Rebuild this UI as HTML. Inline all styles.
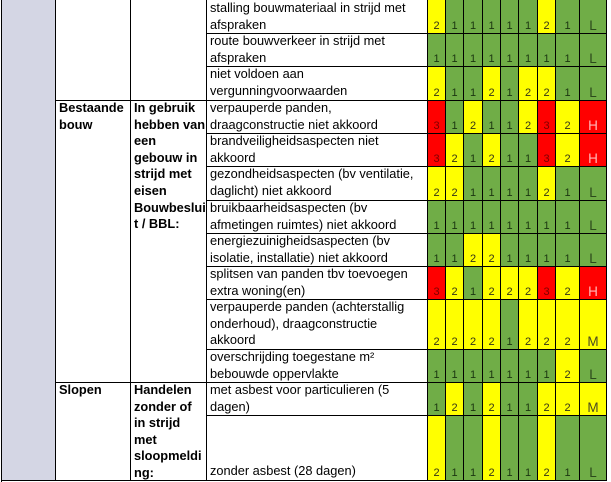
<!DOCTYPE html>
<html>
<head>
<meta charset="utf-8">
<style>
html,body{margin:0;padding:0}
body{width:611px;height:482px;overflow:hidden;background:#fff;position:relative;font-family:"Liberation Sans",Arial,sans-serif}
.v{position:absolute;width:1px;background:#000}
.h{position:absolute;height:1px;background:#000}
.tx{position:absolute;font-size:12.8px;line-height:16.6px;white-space:nowrap;color:#000}
.b{font-weight:bold}
#gray{position:absolute;left:2px;top:0;width:53px;height:480px;background:#d4d6e4}
#num{position:absolute;left:427px;top:0;width:180px;height:481px;background:#000}
.r{position:absolute;left:0;width:180px}
.r>div{position:absolute;top:0;height:100%;display:flex;align-items:flex-end;justify-content:center;font-size:11px;line-height:11px;padding-bottom:1px;box-sizing:border-box}
.G{background:#70ad47;color:#1a3510}
.Y{background:#ffff00;color:#333318}
.R{background:#ff0000;color:#7a0000}
.a1{left:1px;width:17px}.a2{left:19px;width:17px}.a3{left:37px;width:18px}.a4{left:56px;width:17px}.a5{left:74px;width:17px}.a6{left:92px;width:18px}.a7{left:111px;width:17px}.a8{left:129px;width:23px}
.r>div.a9{left:153px;width:26px;font-size:13.5px;line-height:13.5px;padding-bottom:0.5px}
.r>div.a9.G{color:#2c4a1c}.r>div.a9.Y{color:#4a4a22}.r>div.a9.R{color:#ffb8b8}
</style>
</head>
<body>
<div id="gray"></div>

<div class="v" style="left:1px;top:0;height:482px"></div>
<div class="v" style="left:55px;top:0;height:480px"></div>
<div class="v" style="left:130px;top:0;height:480px"></div>
<div class="v" style="left:206px;top:0;height:480px"></div>

<div class="h" style="left:206px;top:33px;width:221px"></div>
<div class="h" style="left:206px;top:66px;width:221px"></div>
<div class="h" style="left:55px;top:100px;width:372px"></div>
<div class="h" style="left:206px;top:133px;width:221px"></div>
<div class="h" style="left:206px;top:166px;width:221px"></div>
<div class="h" style="left:206px;top:200px;width:221px"></div>
<div class="h" style="left:206px;top:233px;width:221px"></div>
<div class="h" style="left:206px;top:266px;width:221px"></div>
<div class="h" style="left:206px;top:299px;width:221px"></div>
<div class="h" style="left:206px;top:349px;width:221px"></div>
<div class="h" style="left:55px;top:382px;width:372px"></div>
<div class="h" style="left:206px;top:415px;width:221px"></div>
<div class="h" style="left:1px;top:480px;width:606px"></div>

<div class="tx b" style="left:59px;top:100px">Bestaande<br>bouw</div>
<div class="tx b" style="left:59px;top:382px">Slopen</div>
<div class="tx b" style="left:134px;top:100px">In gebruik<br>hebben van<br>een<br>gebouw in<br>strijd met<br>eisen<br>Bouwbeslui<br>t / BBL:</div>
<div class="tx b" style="left:134px;top:382px">Handelen<br>zonder of<br>in strijd<br>met<br>sloopmeldi<br>ng:</div>

<div class="tx" style="left:210px;top:0px">stalling bouwmateriaal in strijd met<br>afspraken</div>
<div class="tx" style="left:210px;top:33px">route bouwverkeer in strijd met<br>afspraken</div>
<div class="tx" style="left:210px;top:66px">niet voldoen aan<br>vergunningvoorwaarden</div>
<div class="tx" style="left:210px;top:100px">verpauperde panden,<br>draagconstructie niet akkoord</div>
<div class="tx" style="left:210px;top:133px">brandveiligheidsaspecten niet<br>akkoord</div>
<div class="tx" style="left:210px;top:166px">gezondheidsaspecten (bv ventilatie,<br>daglicht) niet akkoord</div>
<div class="tx" style="left:210px;top:200px">bruikbaarheidsaspecten (bv<br>afmetingen ruimtes) niet akkoord</div>
<div class="tx" style="left:210px;top:233px">energiezuinigheidsaspecten (bv<br>isolatie, installatie) niet akkoord</div>
<div class="tx" style="left:210px;top:266px">splitsen van panden tbv toevoegen<br>extra woning(en)</div>
<div class="tx" style="left:210px;top:299px">verpauperde panden (achterstallig<br>onderhoud), draagconstructie<br>akkoord</div>
<div class="tx" style="left:210px;top:349px">overschrijding toegestane m²<br>bebouwde oppervlakte</div>
<div class="tx" style="left:210px;top:382px">met asbest voor particulieren (5<br>dagen)</div>
<div class="tx" style="left:210px;top:463px">zonder asbest (28 dagen)</div>

<div id="num">
<div class="r" style="top:0;height:33px">
<div class="a1 Y">2</div><div class="a2 G">1</div><div class="a3 G">1</div><div class="a4 G">1</div><div class="a5 G">1</div><div class="a6 G">1</div><div class="a7 Y">2</div><div class="a8 G">1</div><div class="a9 G">L</div>
</div>
<div class="r" style="top:34px;height:32px">
<div class="a1 G">1</div><div class="a2 G">1</div><div class="a3 G">1</div><div class="a4 G">1</div><div class="a5 G">1</div><div class="a6 G">1</div><div class="a7 G">1</div><div class="a8 G">1</div><div class="a9 G">L</div>
</div>
<div class="r" style="top:67px;height:33px">
<div class="a1 Y">2</div><div class="a2 G">1</div><div class="a3 G">1</div><div class="a4 Y">2</div><div class="a5 G">1</div><div class="a6 Y">2</div><div class="a7 Y">2</div><div class="a8 G">1</div><div class="a9 G">L</div>
</div>
<div class="r" style="top:101px;height:32px">
<div class="a1 R">3</div><div class="a2 G">1</div><div class="a3 Y">2</div><div class="a4 G">1</div><div class="a5 G">1</div><div class="a6 Y">2</div><div class="a7 R">3</div><div class="a8 Y">2</div><div class="a9 R">H</div>
</div>
<div class="r" style="top:134px;height:32px">
<div class="a1 R">3</div><div class="a2 Y">2</div><div class="a3 G">1</div><div class="a4 Y">2</div><div class="a5 G">1</div><div class="a6 G">1</div><div class="a7 R">3</div><div class="a8 Y">2</div><div class="a9 R">H</div>
</div>
<div class="r" style="top:167px;height:33px">
<div class="a1 Y">2</div><div class="a2 Y">2</div><div class="a3 G">1</div><div class="a4 G">1</div><div class="a5 G">1</div><div class="a6 G">1</div><div class="a7 Y">2</div><div class="a8 G">1</div><div class="a9 G">L</div>
</div>
<div class="r" style="top:201px;height:32px">
<div class="a1 G">1</div><div class="a2 G">1</div><div class="a3 G">1</div><div class="a4 G">1</div><div class="a5 G">1</div><div class="a6 G">1</div><div class="a7 G">1</div><div class="a8 G">1</div><div class="a9 G">L</div>
</div>
<div class="r" style="top:234px;height:32px">
<div class="a1 G">1</div><div class="a2 G">1</div><div class="a3 Y">2</div><div class="a4 Y">2</div><div class="a5 G">1</div><div class="a6 G">1</div><div class="a7 G">1</div><div class="a8 G">1</div><div class="a9 G">L</div>
</div>
<div class="r" style="top:267px;height:32px">
<div class="a1 R">3</div><div class="a2 Y">2</div><div class="a3 G">1</div><div class="a4 Y">2</div><div class="a5 Y">2</div><div class="a6 Y">2</div><div class="a7 R">3</div><div class="a8 Y">2</div><div class="a9 R">H</div>
</div>
<div class="r" style="top:300px;height:49px">
<div class="a1 Y">2</div><div class="a2 Y">2</div><div class="a3 Y">2</div><div class="a4 Y">2</div><div class="a5 G">1</div><div class="a6 Y">2</div><div class="a7 Y">2</div><div class="a8 Y">2</div><div class="a9 Y">M</div>
</div>
<div class="r" style="top:350px;height:32px">
<div class="a1 G">1</div><div class="a2 G">1</div><div class="a3 G">1</div><div class="a4 G">1</div><div class="a5 G">1</div><div class="a6 G">1</div><div class="a7 G">1</div><div class="a8 Y">2</div><div class="a9 G">L</div>
</div>
<div class="r" style="top:383px;height:32px">
<div class="a1 G">1</div><div class="a2 Y">2</div><div class="a3 G">1</div><div class="a4 Y">2</div><div class="a5 G">1</div><div class="a6 G">1</div><div class="a7 Y">2</div><div class="a8 Y">2</div><div class="a9 Y">M</div>
</div>
<div class="r" style="top:416px;height:64px">
<div class="a1 Y">2</div><div class="a2 G">1</div><div class="a3 G">1</div><div class="a4 Y">2</div><div class="a5 G">1</div><div class="a6 G">1</div><div class="a7 Y">2</div><div class="a8 G">1</div><div class="a9 G">L</div>
</div>
</div>
</body>
</html>
